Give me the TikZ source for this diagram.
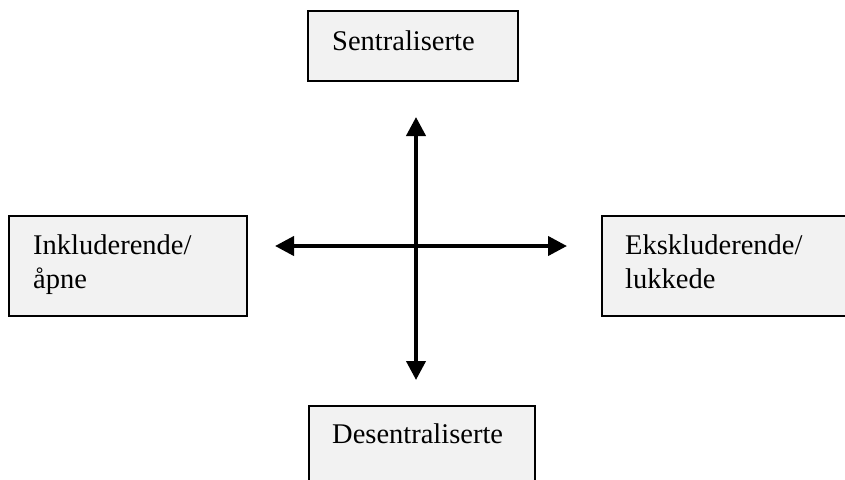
\documentclass[tikz,border=0pt]{standalone}
\usepackage{fontspec}
\setmainfont{Liberation Serif}
\usetikzlibrary{arrows.meta}
\begin{document}
\begin{tikzpicture}[x=1pt,y=-1pt,
  box/.style={draw=black,line width=1.5pt,fill=boxgray},
  lbl/.style={anchor=base west,inner sep=0pt,font=\fontsize{28.5}{34}\selectfont,align=left},
  axis/.style={line width=4pt,{Triangle[width=19pt,length=19pt]}-{Triangle[width=19pt,length=19pt]}}]
\definecolor{boxgray}{HTML}{F2F2F2}
\useasboundingbox (0,0) rectangle (845,479);
% boxes
\draw[box] (308,11) rectangle (518,81);
\node[lbl] (top) at (332,50) {Sentraliserte};
\draw[box] (9,216) rectangle (247,316);
\node[lbl] (left) at (33,254) {Inkluderende/};
\node[lbl] (left2) at (33,288) {åpne};
\draw[box] (602,216) rectangle (860,316);
\node[lbl] (right) at (625,254) {Ekskluderende/};
\node[lbl] (right2) at (625,288) {lukkede};
\draw[box] (309,406) rectangle (535,495);
\node[lbl] (bottom) at (332,443) {Desentraliserte};
% axes
\coordinate (n) at (416,117);
\coordinate (s) at (416,380);
\coordinate (w) at (275,246);
\coordinate (e) at (567,246);
\draw[axis] (s) -- (n);
\draw[axis] (w) -- (e);
\end{tikzpicture}
\end{document}
